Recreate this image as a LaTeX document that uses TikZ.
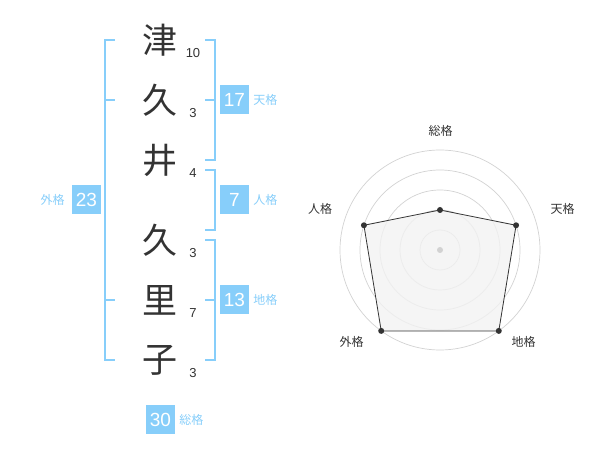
\documentclass[tikz,border=0pt]{standalone}
\usepackage{fontspec}
\setmainfont{Liberation Sans}
\newfontfamily\jp{Noto Sans CJK JP}
\usetikzlibrary{positioning,calc}

\definecolor{kakublue}{HTML}{87CEFA}
\definecolor{inkgrey}{HTML}{333333}
\definecolor{ringgrey}{HTML}{D2D2D2}
\definecolor{areagrey}{HTML}{F2F2F2}

\tikzset{
  kanji/.style={font=\jp\fontsize{35}{35}\selectfont, text=inkgrey, inner sep=0pt},
  strokes/.style={font=\fontsize{13}{13}\selectfont, text=inkgrey, inner sep=0pt},
  kakubox/.style={fill=kakublue, text=white, minimum size=29pt, inner sep=0pt, font=\fontsize{19}{19}\selectfont},
  kakulabel/.style={text=kakublue, font=\jp\fontsize{12}{12}\selectfont, inner sep=0pt},
  bracket/.style={draw=kakublue, line width=2pt},
  ring/.style={draw=ringgrey, line width=0.7pt},
  axislabel/.style={font=\jp\fontsize{12}{12}\selectfont, text=inkgrey, inner sep=0pt},
  dot/.style={circle, fill=inkgrey, inner sep=0pt, minimum size=6pt},
}

\begin{document}
\begin{tikzpicture}[x=1pt, y=-1pt]

    \useasboundingbox (0,0) rectangle (600,470);

    % Name, one character per row
    \node[kanji] (k1) at (160,40)  {津};
    \node[kanji] (k2) at (160,100) {久};
    \node[kanji] (k3) at (160,160) {井};
    \node[kanji] (k4) at (160,240) {久};
    \node[kanji] (k5) at (160,300) {里};
    \node[kanji] (k6) at (160,360) {子};

    % Stroke counts
    \node[strokes] (s1) at (193,53)  {10};
    \node[strokes] (s2) at (193,113) {3};
    \node[strokes] (s3) at (193,173) {4};
    \node[strokes] (s4) at (193,253) {3};
    \node[strokes] (s5) at (193,313) {7};
    \node[strokes] (s6) at (193,373) {3};

    % Brackets
    \draw[bracket] (115,40) -- (105,40) -- (105,360) -- (115,360);
    \draw[bracket] (105,100) -- (115,100);
    \draw[bracket] (105,300) -- (115,300);
    \draw[bracket] (205,40) -- (215,40) -- (215,160) -- (205,160);
    \draw[bracket] (205,100) -- (215,100);
    \draw[bracket] (205,170) -- (215,170) -- (215,230) -- (205,230);
    \draw[bracket] (205,240) -- (215,240) -- (215,360) -- (205,360);
    \draw[bracket] (205,300) -- (215,300);

    % Boxes with their labels
    \node[kakubox] (ten) at (234.5,100) {17};
    \node[kakulabel, right=4pt of ten] (tenl) {天格};
    \node[kakubox] (jin) at (234.5,200) {7};
    \node[kakulabel, right=4pt of jin] (jinl) {人格};
    \node[kakubox] (chi) at (234.5,300) {13};
    \node[kakulabel, right=4pt of chi] (chil) {地格};
    \node[kakubox] (gai) at (86.5,200) {23};
    \node[kakulabel, left=7pt of gai] (gail) {外格};
    \node[kakubox] (sou) at (160.5,419.5) {30};
    \node[kakulabel, right=4pt of sou] (soul) {総格};

    % Radar chart
    \coordinate (c) at (440,250);
    \foreach \r in {20,40,...,100}
        \draw[ring] (c) circle (\r);
    \coordinate (psou) at ($(c)+(-90:40)$);
    \coordinate (pten) at ($(c)+(-18:80)$);
    \coordinate (pchi) at ($(c)+(54:100)$);
    \coordinate (pgai) at ($(c)+(126:100)$);
    \coordinate (pjin) at ($(c)+(198:80)$);
    \draw[inkgrey, line width=0.8pt, fill=areagrey, fill opacity=0.8]
        (psou) -- (pten) -- (pchi) -- (pgai) -- (pjin) -- cycle;
    \node[circle, fill=ringgrey, inner sep=0pt, minimum size=6pt] at (c) {};
    \foreach \p in {psou,pten,pchi,pgai,pjin}
        \node[dot] at (\p) {};

    \node[axislabel] (asou) at (440.5,130.5) {総格};
    \node[axislabel] (aten) at (562.5,208.5) {天格};
    \node[axislabel] (achi) at (523.5,342)   {地格};
    \node[axislabel] (agai) at (351.5,342)   {外格};
    \node[axislabel] (ajin) at (320,208.5)   {人格};

\end{tikzpicture}
\end{document}
